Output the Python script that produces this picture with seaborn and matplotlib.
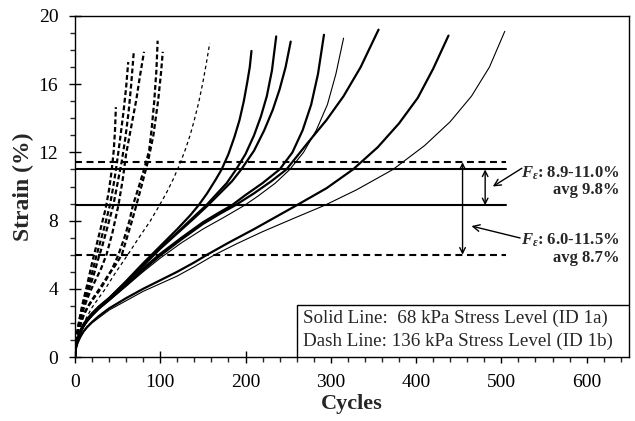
import numpy as np
import pandas as pd
import seaborn as sns
import matplotlib.pyplot as plt
from matplotlib.patches import Rectangle
from matplotlib.ticker import MultipleLocator

# ------------------------------------------------------
# Data (cycles, strain %)
# ------------------------------------------------------
# 68 kPa (solid lines)
s1_cyc = [0, 0.5, 1, 2, 3, 5, 7, 10, 14, 20, 28, 40, 60, 80, 100, 120, 135, 145, 155, 165, 172, 180, 187, 193, 198, 202, 205, 207]
s1_str = [0, 0.35, 0.6, 0.85, 1.05, 1.35, 1.6, 1.9, 2.2, 2.55, 2.95, 3.45, 4.45, 5.5, 6.5, 7.5, 8.3, 8.9, 9.6, 10.4, 11.0, 11.9, 12.9, 13.9, 15.0, 16.1, 17.0, 17.95]
s2_cyc = [0, 0.5, 1, 2, 3, 5, 7, 10, 14, 20, 28, 40, 60, 80, 100, 120, 140, 154, 165, 178, 189, 200, 210, 218, 225, 231, 236]
s2_str = [0, 0.35, 0.6, 0.85, 1.05, 1.35, 1.6, 1.9, 2.2, 2.55, 2.95, 3.45, 4.4, 5.4, 6.4, 7.3, 8.25, 8.9, 9.5, 10.2, 11.0, 11.9, 13.0, 14.1, 15.3, 16.8, 18.8]
s3_cyc = [0, 0.5, 1, 2, 3, 5, 7, 10, 14, 20, 28, 40, 60, 80, 100, 120, 140, 156, 170, 184, 195, 210, 222, 232, 240, 247, 253]
s3_str = [0, 0.33, 0.58, 0.83, 1.02, 1.3, 1.55, 1.85, 2.15, 2.5, 2.9, 3.4, 4.35, 5.35, 6.35, 7.25, 8.15, 8.9, 9.6, 10.3, 11.0, 12.1, 13.3, 14.5, 15.7, 17.0, 18.5]
s4_cyc = [0, 0.5, 1, 2, 3, 5, 7, 10, 14, 20, 28, 40, 60, 80, 100, 125, 150, 170, 184, 200, 220, 240, 255, 267, 277, 285, 292]
s4_str = [0, 0.32, 0.56, 0.8, 1.0, 1.28, 1.52, 1.8, 2.1, 2.45, 2.85, 3.35, 4.25, 5.2, 6.05, 7.0, 7.9, 8.5, 8.9, 9.5, 10.2, 11.0, 12.0, 13.3, 14.8, 16.6, 18.9]
s5_cyc = [0, 0.5, 1, 2, 3, 5, 7, 10, 14, 20, 28, 40, 60, 80, 100, 125, 150, 175, 199, 215, 235, 252, 268, 283, 296, 306, 315]
s5_str = [0, 0.3, 0.54, 0.78, 0.97, 1.25, 1.48, 1.76, 2.05, 2.4, 2.8, 3.3, 4.15, 5.0, 5.8, 6.7, 7.5, 8.2, 8.9, 9.45, 10.2, 11.0, 12.0, 13.3, 14.8, 16.6, 18.7]
s6_cyc = [0, 0.5, 1, 2, 3, 5, 7, 10, 14, 20, 28, 40, 60, 80, 100, 125, 150, 170, 188, 210, 230, 248, 272, 295, 315, 335, 356]
s6_str = [0, 0.32, 0.56, 0.8, 1.0, 1.28, 1.52, 1.8, 2.1, 2.45, 2.85, 3.35, 4.2, 5.1, 5.95, 6.9, 7.8, 8.4, 8.9, 9.6, 10.3, 11.0, 12.5, 13.9, 15.3, 17.0, 19.2]
s7_cyc = [0, 0.5, 1, 2, 3, 5, 7, 10, 14, 20, 28, 40, 60, 80, 100, 120, 140, 155, 180, 210, 235, 260, 295, 326, 355, 380, 402, 420, 438]
s7_str = [0, 0.28, 0.45, 0.65, 0.82, 1.05, 1.25, 1.5, 1.75, 2.05, 2.4, 2.85, 3.45, 4.0, 4.5, 5.0, 5.55, 6.0, 6.7, 7.5, 8.2, 8.9, 9.9, 11.0, 12.3, 13.7, 15.2, 16.9, 18.85]
s8_cyc = [0, 0.5, 1, 2, 3, 5, 7, 10, 14, 20, 28, 40, 60, 80, 100, 120, 140, 164, 190, 220, 255, 293, 330, 373, 410, 440, 465, 486, 504]
s8_str = [0, 0.26, 0.42, 0.62, 0.78, 1.0, 1.2, 1.45, 1.7, 2.0, 2.3, 2.75, 3.3, 3.85, 4.3, 4.75, 5.3, 6.0, 6.65, 7.35, 8.1, 8.9, 9.8, 11.0, 12.4, 13.8, 15.3, 17.0, 19.1]
solid_cycles = [s1_cyc, s2_cyc, s3_cyc, s4_cyc, s5_cyc, s6_cyc, s7_cyc, s8_cyc]
solid_strain = [s1_str, s2_str, s3_str, s4_str, s5_str, s6_str, s7_str, s8_str]
solid_thin = [False, False, False, False, True, False, False, True]

# 136 kPa (dash lines)
d1_cyc = [0, 0.5, 1, 2, 3, 4, 6, 8, 10, 13, 16, 20, 24, 28, 32, 36, 40, 43, 45.5, 47, 48]
d1_str = [0, 0.45, 0.75, 1.2, 1.55, 1.85, 2.4, 2.9, 3.35, 3.95, 4.6, 5.5, 6.3, 7.1, 7.9, 8.7, 9.8, 10.9, 12.1, 13.3, 14.65]
d2_cyc = [0, 0.5, 1, 2, 3, 4, 6, 8, 10, 13, 16, 20, 25, 30, 35, 41, 45, 49, 53, 57, 60, 62.5]
d2_str = [0, 0.42, 0.72, 1.15, 1.5, 1.8, 2.3, 2.75, 3.15, 3.7, 4.2, 4.9, 5.9, 6.8, 7.7, 8.9, 10.0, 11.3, 12.8, 14.4, 15.8, 17.3]
d3_cyc = [0, 0.5, 1, 2, 3, 4, 6, 8, 10, 14, 18, 22, 27, 32, 38, 45, 50, 55, 59, 63, 66, 69]
d3_str = [0, 0.4, 0.68, 1.1, 1.42, 1.7, 2.2, 2.6, 3.0, 3.6, 4.2, 4.8, 5.7, 6.5, 7.6, 8.9, 10.2, 11.5, 12.8, 14.4, 16.0, 17.9]
d4_cyc = [0, 0.5, 1, 2, 3, 4, 6, 8, 10, 14, 18, 24, 30, 37, 44, 51, 56, 60, 66, 72, 76, 81]
d4_str = [0, 0.38, 0.65, 1.05, 1.35, 1.6, 2.05, 2.45, 2.8, 3.35, 3.85, 4.5, 5.1, 6.0, 7.3, 8.9, 10.4, 11.9, 13.5, 15.1, 16.4, 17.9]
d5_cyc = [0, 0.5, 1, 2, 3, 4, 6, 8, 10, 16, 22, 28, 35, 43, 51, 58, 64, 68, 75, 81, 87, 90, 93, 95.5, 97]
d5_str = [0, 0.35, 0.58, 0.95, 1.22, 1.46, 1.86, 2.2, 2.5, 3.0, 3.45, 3.85, 4.4, 5.1, 6.0, 7.0, 8.0, 8.9, 10.0, 11.0, 12.1, 13.4, 15.0, 16.8, 18.55]
d6_cyc = [0, 0.5, 1, 2, 3, 4, 6, 8, 10, 15, 20, 26, 32, 39, 47, 55, 61, 67, 72, 79, 86, 92, 97.7, 101, 103]
d6_str = [0, 0.33, 0.56, 0.92, 1.18, 1.42, 1.8, 2.12, 2.4, 2.95, 3.35, 3.8, 4.25, 4.8, 5.35, 6.0, 7.0, 8.0, 8.9, 10.2, 11.55, 13.0, 15.1, 16.7, 17.9]
d7_cyc = [0, 0.5, 1, 2, 3, 5, 7, 10, 14, 20, 27, 35, 47, 62, 75, 88, 98, 107, 115, 122, 129, 135, 140, 145, 150, 154, 158]
d7_str = [0, 0.3, 0.5, 0.8, 1.0, 1.35, 1.6, 1.95, 2.35, 2.9, 3.4, 3.95, 4.9, 6.0, 7.0, 7.95, 8.8, 9.6, 10.4, 11.2, 12.1, 13.0, 13.9, 14.9, 16.1, 17.2, 18.4]
dash_cycles = [d1_cyc, d2_cyc, d3_cyc, d4_cyc, d5_cyc, d6_cyc, d7_cyc]
dash_strain = [d1_str, d2_str, d3_str, d4_str, d5_str, d6_str, d7_str]
dash_thin = [False, False, False, False, False, False, True]

# failure strain bands
solid_band = [8.9, 11.0]
dash_band = [6.0, 11.42]
band_end = 505

# ------------------------------------------------------
# Style
# ------------------------------------------------------
sns.set_theme(style="ticks")
plt.rcParams['font.family'] = ['Liberation Serif', 'DejaVu Serif']
plt.rcParams['mathtext.fontset'] = 'custom'
plt.rcParams['mathtext.rm'] = 'Liberation Serif:bold'
plt.rcParams['mathtext.it'] = 'Liberation Serif:italic:bold'
plt.rcParams['mathtext.bf'] = 'Liberation Serif:bold'
plt.rcParams['lines.scale_dashes'] = False
plt.rcParams['axes.linewidth'] = 1.0

fig, ax = plt.subplots(figsize=(6.35, 4.21), dpi=100)
fig.subplots_adjust(left=0.118, right=0.991, top=0.962, bottom=0.152)

# solid curves
for cyc, st, thin in zip(solid_cycles, solid_strain, solid_thin):
    sns.lineplot(x=cyc, y=st, ax=ax, color='black', sort=False, estimator=None,
                 lw=0.8 if thin else 1.6)

# dash curves
for cyc, st, thin in zip(dash_cycles, dash_strain, dash_thin):
    sns.lineplot(x=cyc, y=st, ax=ax, color='black', sort=False, estimator=None,
                 lw=0.9 if thin else 1.6,
                 linestyle=(0, (2.5, 2.2)) if thin else (0, (3.5, 2.0)))

# band lines
for v in solid_band:
    ax.plot([0, band_end], [v, v], color='black', lw=1.5)
for v in dash_band:
    ax.plot([0, band_end], [v, v], color='black', lw=1.5, linestyle=(0, (5, 3.3)))

# range arrows
ax.annotate('', xy=(481, solid_band[0]), xytext=(481, solid_band[1]),
            arrowprops=dict(arrowstyle='<->', color='black', lw=1.0,
                            shrinkA=0, shrinkB=0, mutation_scale=10))
ax.annotate('', xy=(454.5, dash_band[0]), xytext=(454.5, dash_band[1]),
            arrowprops=dict(arrowstyle='<->', color='black', lw=1.0,
                            shrinkA=0, shrinkB=0, mutation_scale=10))
ax.annotate('', xy=(490, 10.0), xytext=(524, 11.07),
            arrowprops=dict(arrowstyle='->', color='black', lw=1.0,
                            shrinkA=0, shrinkB=0, mutation_scale=12))
ax.annotate('', xy=(465, 7.68), xytext=(522, 6.98),
            arrowprops=dict(arrowstyle='->', color='black', lw=1.0,
                            shrinkA=0, shrinkB=0, mutation_scale=12))

ax.text(639, 10.3, "$F_\\varepsilon$: 8.9-11.0%\navg 9.8%", ha='right', va='center',
        multialignment='right', fontsize=12, fontweight='bold', linespacing=1.05)
ax.text(639, 6.33, "$F_\\varepsilon$: 6.0-11.5%\navg 8.7%", ha='right', va='center',
        multialignment='right', fontsize=12, fontweight='bold', linespacing=1.05)

# legend box
ax.add_patch(Rectangle((0.4007, 0.0), 0.5993, 0.152, transform=ax.transAxes,
                       facecolor='white', edgecolor='black', lw=1.0, zorder=5))
ax.text(0.4116, 0.114, "Solid Line:  68 kPa Stress Level (ID 1a)", transform=ax.transAxes,
        fontsize=13.7, va='center', ha='left', zorder=6)
ax.text(0.4116, 0.047, "Dash Line: 136 kPa Stress Level (ID 1b)", transform=ax.transAxes,
        fontsize=13.7, va='center', ha='left', zorder=6)

# axes
ax.set_xlim(0, 650)
ax.set_ylim(0, 20)
ax.xaxis.set_major_locator(MultipleLocator(100))
ax.xaxis.set_minor_locator(MultipleLocator(20))
ax.yaxis.set_major_locator(MultipleLocator(4))
ax.yaxis.set_minor_locator(MultipleLocator(1))
ax.tick_params(which='major', direction='inout', length=8, width=1.0, pad=8,
               labelsize=14, colors='black', top=False, right=False)
ax.tick_params(which='minor', direction='out', length=3.5, width=1.0,
               top=False, right=False)
for sp in ax.spines.values():
    sp.set_visible(True)
    sp.set_color('black')

ax.set_xlabel('Cycles', fontsize=16, fontweight='bold')
ax.set_ylabel('Strain (%)', fontsize=17, fontweight='bold')
ax.xaxis.set_label_coords(0.5, -0.108)
ax.yaxis.set_label_coords(-0.074, 0.5)

plt.savefig("out.png", dpi=100)
